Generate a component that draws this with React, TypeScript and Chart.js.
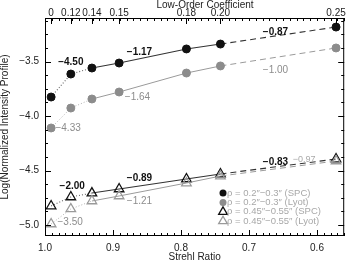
import React, { useEffect, useRef } from 'react';
import { Chart, registerables } from 'chart.js';

Chart.register(...registerables);

// ---- data ----
const strehl = [0.991, 0.962, 0.931, 0.891, 0.792, 0.742, 0.572];
const coeffLabels = ['0', '0.12', '0.14', '0.15', '0.18', '0.20', '0.25'];
const spcInner = [-3.825, -3.614, -3.559, -3.513, -3.384, -3.339, -3.183];
const lyotInner = [-4.109, -3.926, -3.843, -3.779, -3.605, -3.54, -3.375];
const spcOuter = [-4.825, -4.742, -4.706, -4.669, -4.577, -4.531, -4.394];
const lyotOuter = [-4.99, -4.852, -4.779, -4.733, -4.614, -4.55, -4.412];
const strehlTicks = [1.0, 0.9, 0.8, 0.7, 0.6];
const logTicks = [-5.0, -4.5, -4.0, -3.5];
const legendLabels = [
  'ρ = 0.2″−0.3″ (SPC)',
  'ρ = 0.2″−0.3″ (Lyot)',
  'ρ = 0.45″−0.55″ (SPC)',
  'ρ = 0.45″−0.55″ (Lyot)',
];
const slopeText = ['−4.50', '−1.17', '−0.87', '−1.00', '−1.64', '−4.33', '−2.00', '−0.89', '−1.21', '−3.50', '−0.83', '−0.97'];
const slopeX = [0.962, 0.861, 0.661, 0.661, 0.864, 0.966, 0.96, 0.861, 0.861, 0.963, 0.661, 0.619];
const slopeY = [-3.504, -3.412, -3.228, -3.577, -3.825, -4.109, -4.641, -4.568, -4.779, -4.972, -4.421, -4.394];
const slopeBold = [true, true, true, false, false, false, true, true, false, false, true, false];

const FONT = '"Liberation Sans", Arial, sans-serif';
const BLACK = '#111111';
const GRAY = '#8c8c8c';
const GRAY_LINE = '#9a9a9a';

const segDash = (ctx: any) =>
  ctx.p0DataIndex < 2 ? [1, 2] : ctx.p0DataIndex >= 5 ? [6, 4] : [];

function ds(label: string, ys: number[], color: string, lineColor: string, dotColor: string, tri: boolean, lw: number) {
  return {
    label,
    data: strehl.map((x, i) => ({ x, y: ys[i] })),
    borderColor: lineColor,
    borderWidth: lw,
    pointStyle: tri ? 'triangle' : 'circle',
    pointRadius: tri ? 5.5 : 4,
    pointBorderWidth: tri ? 1.3 : 1,
    pointBorderColor: color,
    pointBackgroundColor: tri ? 'rgba(0,0,0,0)' : color,
    fill: false,
    tension: 0,
    segment: {
      borderDash: segDash,
      borderColor: (ctx: any) => (ctx.p0DataIndex < 2 ? dotColor : lineColor),
    },
  };
}

const framePlugin = {
  id: 'frame',
  afterDatasetsDraw(chart: any) {
    const { ctx, scales } = chart;
    const xs = scales.x;
    const ys = scales.y;
    ctx.save();
    ctx.textAlign = 'center';
    ctx.textBaseline = 'middle';
    slopeText.forEach((t, i) => {
      ctx.font = slopeBold[i] ? `bold 10px ${FONT}` : `${i === 11 ? 9 : 10}px ${FONT}`;
      ctx.fillStyle = slopeBold[i] ? BLACK : (i === 11 ? '#aaaaaa' : GRAY);
      ctx.fillText(t, xs.getPixelForValue(slopeX[i]), ys.getPixelForValue(slopeY[i]));
    });
    ctx.restore();
  },
  afterDraw(chart: any) {
    const { ctx, chartArea: a, scales } = chart;
    const xs = scales.x;
    const ys = scales.y;
    const x2 = scales.x2;
    ctx.save();
    ctx.strokeStyle = '#000';
    ctx.lineWidth = 1;
    ctx.strokeRect(a.left + 0.5, a.top + 0.5, a.right - a.left - 1, a.bottom - a.top - 1);
    const seg = (x1: number, y1: number, x2_: number, y2: number) => {
      ctx.beginPath();
      ctx.moveTo(x1, y1);
      ctx.lineTo(x2_, y2);
      ctx.stroke();
    };
    for (let i = 56; i <= 100; i++) {
      const px = Math.round(xs.getPixelForValue(i / 100)) + 0.5;
      const L = i % 10 === 0 ? 6 : 3;
      seg(px, a.bottom, px, a.bottom - L);
      seg(px, a.top, px, a.top + 3);
    }
    strehl.forEach((v) => {
      const px = Math.round(x2.getPixelForValue(v)) + 0.5;
      seg(px, a.top, px, a.top + 6);
    });
    for (let k = 0; k <= 15; k++) {
      const v = -5.0 + k * 0.125;
      if (v > -3.1) break;
      const py = Math.round(ys.getPixelForValue(v)) + 0.5;
      const L = k % 4 === 0 ? 6 : 3;
      seg(a.left, py, a.left + L, py);
      seg(a.right, py, a.right - L, py);
    }
    ctx.font = `10px ${FONT}`;
    ctx.fillStyle = '#222';
    ctx.textAlign = 'center';
    ctx.textBaseline = 'alphabetic';
    ctx.fillText('Low-Order Coefficient', a.left + 160, 7.5);
    const lx = a.left + 178;
    const ly = a.top + 175;
    const styles = [
      { c: BLACK, tri: false },
      { c: GRAY, tri: false },
      { c: BLACK, tri: true },
      { c: GRAY_LINE, tri: true },
    ];
    ctx.font = `9.5px ${FONT}`;
    ctx.textAlign = 'left';
    ctx.textBaseline = 'middle';
    legendLabels.forEach((t, i) => {
      const y = ly + i * 9.4;
      const s = styles[i];
      if (s.tri) {
        const r = 5;
        ctx.beginPath();
        ctx.moveTo(lx, y - r);
        ctx.lineTo(lx + r * 0.866, y + r * 0.5);
        ctx.lineTo(lx - r * 0.866, y + r * 0.5);
        ctx.closePath();
        ctx.strokeStyle = s.c;
        ctx.lineWidth = 1.3;
        ctx.stroke();
      } else {
        ctx.beginPath();
        ctx.arc(lx, y, 3.5, 0, Math.PI * 2);
        ctx.fillStyle = s.c;
        ctx.fill();
      }
      ctx.fillStyle = '#a8a8a8';
      ctx.fillText(t, lx + 4, y);
    });
    ctx.restore();
  },
};

export default function App() {
  const ref = useRef<HTMLCanvasElement>(null);
  useEffect(() => {
    document.body.style.margin = '0';
    const canvas = ref.current!;
    const tickFont = { family: FONT, size: 10 };
    const noGrid = { display: false, drawTicks: false, tickLength: 0 };
    const chart = new Chart(canvas, {
      type: 'line',
      data: {
        datasets: [
          ds('lyotOuter', lyotOuter, GRAY_LINE, GRAY_LINE, '#b0b0b0', true, 1),
          ds('spcOuter', spcOuter, BLACK, '#333', '#666', true, 1.1),
          ds('lyotInner', lyotInner, GRAY, GRAY_LINE, '#b0b0b0', false, 1),
          ds('spcInner', spcInner, BLACK, '#333', '#666', false, 1.1),
        ],
      },
      plugins: [framePlugin],
      options: {
        animation: false,
        responsive: false,
        devicePixelRatio: 1,
        layout: { padding: { left: 0, right: 6, top: 0, bottom: 0 } },
        plugins: { legend: { display: false }, tooltip: { enabled: false } },
        scales: {
          x: {
            type: 'linear',
            position: 'bottom',
            min: 0.56,
            max: 1.0,
            reverse: true,
            grid: noGrid,
            border: { display: false },
            afterBuildTicks: (s: any) => {
              s.ticks = strehlTicks.map((v) => ({ value: v }));
            },
            afterFit: (s: any) => {
              s.height = 27;
            },
            ticks: {
              autoSkip: false,
              maxRotation: 0,
              padding: 6,
              color: '#222',
              font: tickFont,
              callback: (v: any) => Number(v).toFixed(1),
            },
            title: {
              display: true,
              text: 'Strehl Ratio',
              color: '#222',
              font: tickFont,
              padding: { top: 0, bottom: 0 },
            },
          },
          x2: {
            type: 'linear',
            position: 'top',
            min: 0.56,
            max: 1.0,
            reverse: true,
            grid: noGrid,
            border: { display: false },
            afterBuildTicks: (s: any) => {
              s.ticks = strehl.map((v) => ({ value: v }));
            },
            afterFit: (s: any) => {
              s.height = 18;
            },
            ticks: {
              autoSkip: false,
              maxRotation: 0,
              padding: -1,
              color: '#222',
              font: tickFont,
              callback: (_v: any, i: number) => coeffLabels[i],
            },
          },
          y: {
            type: 'linear',
            position: 'left',
            min: -5.1,
            max: -3.1,
            grid: noGrid,
            border: { display: false },
            afterBuildTicks: (s: any) => {
              s.ticks = logTicks.map((v) => ({ value: v }));
            },
            afterFit: (s: any) => {
              s.width = 45;
            },
            ticks: {
              padding: 6,
              color: '#222',
              font: tickFont,
              callback: (v: any) => (Number(v) < 0 ? '\u2212' : '') + Math.abs(Number(v)).toFixed(1),
            },
            title: {
              display: true,
              text: 'Log(Normalized Intensity Profile)',
              color: '#222',
              font: tickFont,
              padding: { top: -1, bottom: 0 },
            },
          },
        },
      } as any,
    });
    return () => chart.destroy();
  }, []);
  return (
    <div style={{ width: 351, height: 263 }}>
      <canvas ref={ref} width={351} height={263} style={{ display: 'block' }} />
    </div>
  );
}
